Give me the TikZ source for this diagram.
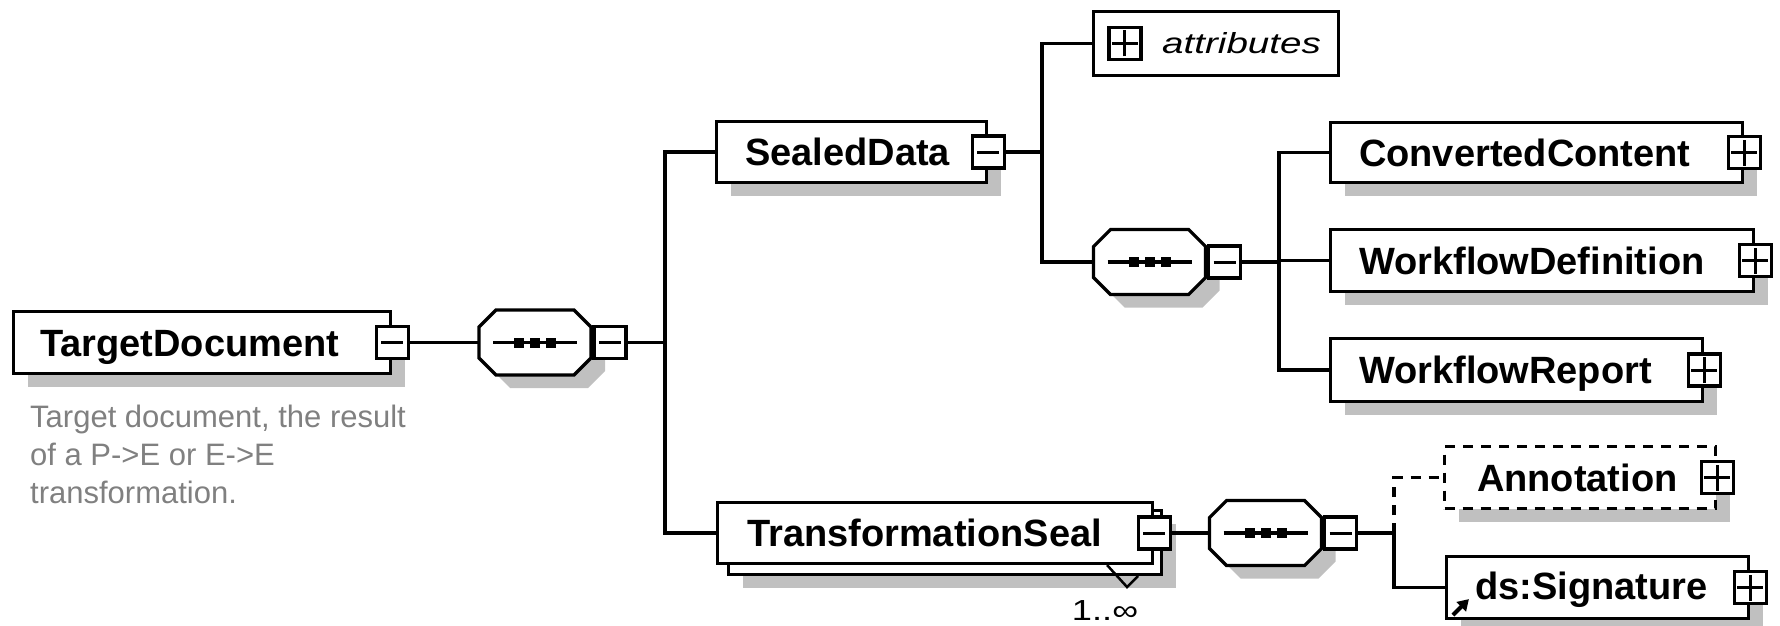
\documentclass[tikz,border=0pt]{standalone}
\usepackage{graphicx}
\usepackage{fontspec}
\setmainfont{Liberation Sans}
\usetikzlibrary{shadows,arrows.meta}
\definecolor{shgray}{RGB}{192,192,192}
\definecolor{descgray}{RGB}{128,128,128}
\newcommand\mySeq[1]{%
  \draw[seqshape] ([shift={(17,0)}]#1.north west) -- ([shift={(-17,0)}]#1.north east)
     -- ([shift={(0,17)}]#1.north east) -- ([shift={(0,-17)}]#1.south east)
     -- ([shift={(-17,0)}]#1.south east) -- ([shift={(17,0)}]#1.south west)
     -- ([shift={(0,-17)}]#1.south west) -- ([shift={(0,17)}]#1.north west) -- cycle;
  \draw[line width=3.2pt] ([shift={(-42,0)}]#1.center) -- ([shift={(42,0)}]#1.center);
  \foreach \dx in {-16,0,16} \fill ([shift={(\dx-5,-5)}]#1.center) rectangle ++(10,10);
}
\begin{document}
\begin{tikzpicture}[x=1pt,y=-1pt,
  conn/.style={line width=3.2pt},
  elbox/.style={draw, fill=white, line width=3.2pt, inner sep=0pt, rectangle,
     drop shadow={shadow xshift=14pt, shadow yshift=-13pt, fill=shgray, opacity=1}},
  plainbox/.style={draw, fill=white, line width=3.2pt, inner sep=0pt, rectangle},
  optbox/.style={elbox, dash pattern=on 10pt off 8pt},
  seqbox/.style={rectangle, inner sep=0pt, outer sep=0pt, minimum width=112pt, minimum height=65pt},
  seqshape/.style={draw, fill=white, line width=3.2pt, line join=miter,
     drop shadow={shadow xshift=14pt, shadow yshift=-13pt, fill=shgray, opacity=1}},
  pm/.style={draw, fill=white, line width=3.2pt, minimum size=32pt, inner sep=0pt, outer sep=0pt},
  minusb/.style={pm, path picture={\draw[line width=3pt] ([xshift=-11pt]path picture bounding box.center) -- ([xshift=11pt]path picture bounding box.center);}},
  plusb/.style={pm, path picture={\draw[line width=3pt] ([xshift=-13pt]path picture bounding box.center) -- ([xshift=13pt]path picture bounding box.center) ([yshift=-13pt]path picture bounding box.center) -- ([yshift=13pt]path picture bounding box.center);}},
  lbl/.style={anchor=base west, inner sep=0pt, font=\bfseries\fontsize{38}{44}\selectfont},
  desc/.style={anchor=base west, inner sep=0pt, text=descgray, font=\fontsize{31}{38}\selectfont},
]
\useasboundingbox (0,0) rectangle (1780,626);

% TargetDocument
\node[elbox, minimum width=377pt, minimum height=62pt] (td) at (202,342.5) {};
\node[lbl] (tdl) at ([shift={(28,13.5)}]td.west) {TargetDocument};
\node[minusb] (tdm) at (td.east) {};
\node[desc] (d1) at (30,427) {Target document, the result};
\node[desc] (d2) at (30,465) {of a P->E or E->E};
\node[desc] (d3) at (30,503) {transformation.};

% sequence 1
\node[seqbox] (s1) at (535,342.5) {};
\mySeq{s1}
\node[minusb, anchor=west] (s1m) at ([xshift=3pt]s1.east) {};
\coordinate (j1) at (665,342.5);

% SealedData
\node[elbox, minimum width=270pt, minimum height=61pt] (sd) at (851.5,152) {};
\node[lbl] (sdl) at ([shift={(30,13.5)}]sd.west) {SealedData};
\node[minusb] (sdm) at (sd.east) {};
\coordinate (j2) at (1042,152);

% attributes
\node[plainbox, minimum width=245pt, minimum height=64pt] (attr) at (1216,43.5) {};
\node[plusb] (attrp) at ([xshift=33pt]attr.west) {};
\node[anchor=base west, inner sep=0pt, font=\itshape\fontsize{29}{34}\selectfont] (attrl) at (1162,53) {\scalebox{1.33}[1]{attributes}};

% sequence 2
\node[seqbox] (s2) at (1149.5,262) {};
\mySeq{s2}
\node[minusb, anchor=west] (s2m) at ([xshift=3pt]s2.east) {};
\coordinate (j3) at (1279,262);

% children of sequence 2
\node[elbox, minimum width=412pt, minimum height=60pt] (cc) at (1536.5,152.5) {};
\node[lbl] (ccl) at ([shift={(30,13.5)}]cc.west) {ConvertedContent};
\node[plusb] (ccp) at (cc.east) {};
\node[elbox, minimum width=423pt, minimum height=62pt] (wd) at (1542,260.5) {};
\node[lbl] (wdl) at ([shift={(30,13.5)}]wd.west) {WorkflowDefinition};
\node[plusb] (wdp) at (wd.east) {};
\node[elbox, minimum width=372pt, minimum height=63pt] (wr) at (1516.5,370) {};
\node[lbl] (wrl) at ([shift={(30,13.5)}]wr.west) {WorkflowReport};
\node[plusb] (wrp) at (wr.east) {};

% TransformationSeal (multiple)
\node[elbox, minimum width=433pt, minimum height=64pt] (tsb) at (945,542.5) {};
\node[plainbox, minimum width=435pt, minimum height=61pt] (ts) at (935,533) {};
\node[lbl] (tsl) at ([shift={(31,13.5)}]ts.west) {TransformationSeal};
\draw[line width=2.5pt] ([shift={(-47,0)}]ts.south east) -- ++(20,22) -- ++(11,-11);
\node[minusb] (tsm) at (ts.east) {};
\node[inner sep=0pt, font=\fontsize{29}{32}\selectfont] (mult) at (1105,611) {\scalebox{1.25}[1]{1..∞}};

% sequence 3
\node[seqbox] (s3) at (1265.5,533) {};
\mySeq{s3}
\node[minusb, anchor=west] (s3m) at ([xshift=3pt]s3.east) {};
\coordinate (j4) at (1394,533);

% Annotation (optional)
\node[optbox, minimum width=271pt, minimum height=62pt] (an) at (1580,477.5) {};
\node[lbl] (anl) at ([shift={(34,13.5)}]an.west) {Annotation};
\node[plusb] (anp) at (an.east) {};

% ds:Signature (reference)
\node[elbox, minimum width=302pt, minimum height=62pt] (sig) at (1597.5,587.5) {};
\node[lbl] (sigl) at ([shift={(30,12)}]sig.west) {ds:Signature};
\node[plusb] (sigp) at (sig.east) {};
\draw[line width=4pt, -{Triangle[length=11pt,width=13pt]}] ([shift={(8,-5)}]sig.south west) -- ++(16,-16);

% connectors
\draw[conn] (tdm.east) -- (tdm.east -| s1.west);
\draw[conn] (s1m.east) -- (s1m.east -| j1);
\draw[conn] (sd.west) -| (j1) |- (ts.west);
\draw[conn] (sdm.east) -- (sdm.east -| j2);
\draw[conn] (attr.west) -| (j2) |- (s2.west);
\draw[conn] (s2m.east) -- (s2m.east -| j3);
\draw[conn] (cc.west) -| (j3) |- (wr.west);
\draw[conn] (wd.west -| j3) -- (wd.west);
\draw[conn] (tsm.east) -- (tsm.east -| s3.west);
\draw[conn] (s3m.east) -- (s3m.east -| j4);
\draw[conn, dash pattern=on 10pt off 8pt] (j4) |- (an.west);
\draw[conn] (j4) |- (sig.west);
\end{tikzpicture}
\end{document}
